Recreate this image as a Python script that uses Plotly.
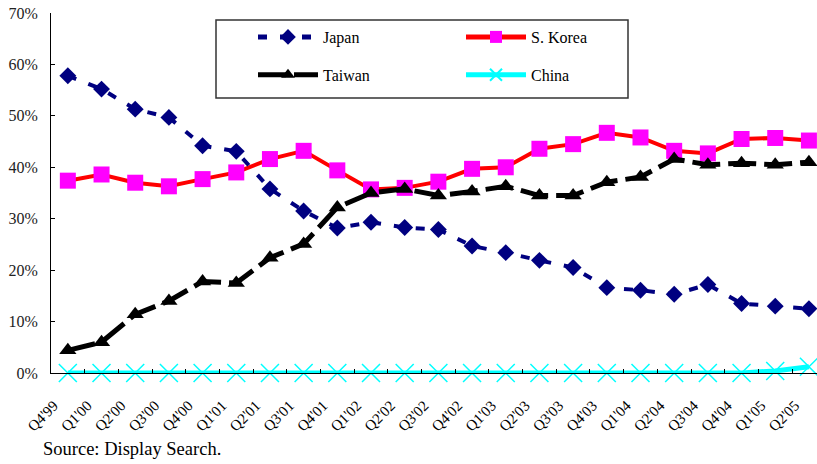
import plotly.graph_objects as go

# Market share of TFT-LCD production by region, quarterly
quarters = ["Q4'99", "Q1'00", "Q2'00", "Q3'00", "Q4'00", "Q1'01", "Q2'01", "Q3'01",
            "Q4'01", "Q1'02", "Q2'02", "Q3'02", "Q4'02", "Q1'03", "Q2'03", "Q3'03",
            "Q4'03", "Q1'04", "Q2'04", "Q3'04", "Q4'04", "Q1'05", "Q2'05"]
japan = [57.8, 55.2, 51.3, 49.7, 44.2, 43.1, 35.8, 31.5, 28.2, 29.3, 28.3, 27.9,
         24.7, 23.4, 21.9, 20.5, 16.6, 16.1, 15.3, 17.2, 13.5, 13.0, 12.5]
korea = [37.4, 38.6, 37.0, 36.3, 37.7, 39.0, 41.6, 43.2, 39.4, 35.7, 36.0, 37.2,
         39.7, 40.0, 43.6, 44.5, 46.7, 45.8, 43.2, 42.7, 45.5, 45.7, 45.2]
taiwan = [4.4, 6.0, 11.4, 14.0, 17.8, 17.5, 22.4, 25.1, 32.2, 35.0, 35.8, 34.5,
          35.3, 36.3, 34.5, 34.5, 37.1, 38.1, 41.6, 40.5, 40.8, 40.5, 41.0]
china = [0.0, 0.0, 0.0, 0.0, 0.0, 0.0, 0.0, 0.0, 0.0, 0.0, 0.0, 0.0,
         0.0, 0.0, 0.0, 0.0, 0.0, 0.0, 0.0, 0.0, 0.0, 0.4, 1.2]

W, H = 817, 464
ML, MR, MT, MB = 51, 0, 13, 91
PW, PH = W - ML - MR, H - MT - MB
SERIF = "Liberation Serif"


def fx(px):
    return (px - ML) / PW


def fy(py):
    return (H - MB - py) / PH


def frac(vals):
    return [v / 100 for v in vals]


fig = go.Figure()

fig.add_trace(go.Scatter(
    x=quarters, y=frac(korea), name="S. Korea", mode="lines+markers",
    line=dict(color="#FF0000", width=4),
    marker=dict(symbol="square", size=16, color="#FF00FF"),
    legend="legend2", legendgroup="korea", cliponaxis=False))

fig.add_trace(go.Scatter(
    x=quarters, y=frac(japan), name="Japan", mode="lines+markers",
    line=dict(color="#000080", width=4, dash="9px,13px"),
    marker=dict(symbol="diamond", size=13, color="#000080"),
    legend="legend", legendgroup="japan", cliponaxis=False))

fig.add_trace(go.Scatter(
    x=quarters, y=frac(taiwan), name="Taiwan", mode="lines+markers",
    line=dict(color="#000000", width=5, dash="28px,8px"),
    marker=dict(symbol="triangle-up", size=15, color="#000000"),
    legend="legend", legendgroup="taiwan", cliponaxis=False))

fig.add_trace(go.Scatter(
    x=quarters, y=frac(china), name="China", mode="lines+markers",
    line=dict(color="#00FFFF", width=5),
    marker=dict(symbol="x-thin", size=18, color="#00FFFF",
                line=dict(color="#00FFFF", width=1.5)),
    legend="legend2", legendgroup="china", cliponaxis=False))

legend_style = dict(
    xanchor="left", yanchor="top", itemsizing="constant",
    bgcolor="rgba(0,0,0,0)", borderwidth=0, itemwidth=60, tracegroupgap=14,
    font=dict(family=SERIF, size=16, color="#000000"))

fig.update_layout(
    width=W, height=H,
    margin=dict(l=ML, r=MR, t=MT, b=MB, autoexpand=False),
    paper_bgcolor="white", plot_bgcolor="white",
    showlegend=True,
    legend=dict(x=fx(253), y=fy(20), **legend_style),
    legend2=dict(x=fx(461), y=fy(20), **legend_style),
    xaxis=dict(
        type="category", range=[-0.5, 22.24], showgrid=False,
        showline=True, linecolor="#000000", linewidth=1,
        ticks="inside", tickson="boundaries", ticklen=4, tickcolor="#000000",
        tickangle=-45, ticklabelstandoff=17, ticklabelshift=-14,
        tickfont=dict(family=SERIF, size=15, color="#000000")),
    yaxis=dict(
        range=[0, 0.7], dtick=0.1, tickformat=".0%", showgrid=False,
        zeroline=False, showline=True, linecolor="#000000", linewidth=1,
        ticks="inside", ticklen=4, tickcolor="#000000", ticklabelstandoff=9,
        tickfont=dict(family=SERIF, size=16, color="#222222")),
    shapes=[dict(
        type="rect", xref="paper", yref="paper",
        x0=fx(216), x1=fx(628), y0=fy(98), y1=fy(20),
        line=dict(color="#333333", width=1.5), fillcolor="rgba(0,0,0,0)")],
    annotations=[dict(
        text="Source: Display Search.", xref="paper", yref="paper",
        x=fx(41), y=fy(449), xanchor="left", yanchor="middle", showarrow=False,
        font=dict(family=SERIF, size=18.5, color="#000000"))],
)

fig.write_html("out.html")
